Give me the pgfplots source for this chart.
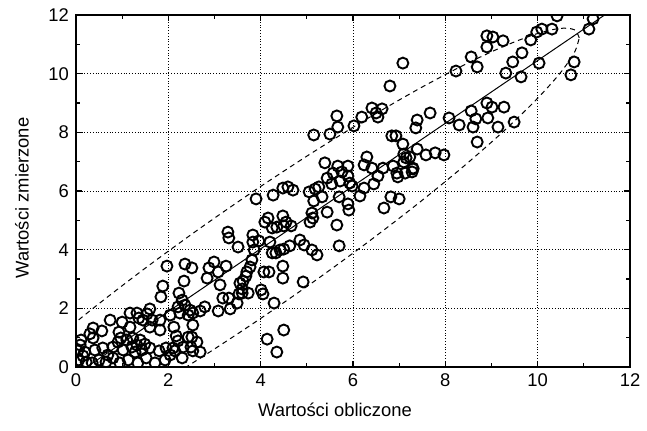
\documentclass[border=0pt]{standalone}
\usepackage{fontspec}
\setmainfont{Liberation Sans}
\usepackage{pgfplots}
\pgfplotsset{compat=1.18}
\usepackage{pgfplotstable}
\usetikzlibrary{calc}
\pgfplotstableread{
X Y
10.42 11.97
11.20 11.87
11.11 11.52
10.31 11.52
10.09 11.52
9.98 11.42
9.85 11.15
8.90 11.29
9.03 11.25
8.90 10.91
9.25 11.12
8.56 10.57
8.69 10.23
8.23 10.09
9.66 10.71
9.46 10.40
9.31 10.02
9.64 9.89
10.03 10.36
10.79 10.40
10.72 9.96
7.67 8.66
8.08 8.49
8.30 8.25
8.56 8.73
8.90 9.00
9.01 8.86
8.92 8.49
8.66 8.46
8.60 8.18
9.14 8.18
9.49 8.35
9.27 8.86
8.69 7.67
7.78 7.30
7.97 7.23
7.39 8.42
7.36 8.15
7.23 7.16
7.39 7.43
7.58 7.23
7.30 6.78
7.08 10.36
6.80 9.58
6.41 8.83
6.63 8.80
6.50 8.66
6.54 8.52
6.19 8.52
5.65 8.56
5.67 8.18
5.50 7.94
5.15 7.91
6.02 8.22
6.84 7.88
6.93 7.88
7.08 7.60
7.10 7.26
7.15 7.13
6.30 7.16
5.39 6.96
5.67 6.85
5.89 6.85
6.24 6.89
6.41 6.78
6.65 6.78
6.87 6.85
7.10 6.99
7.30 6.75
6.95 6.61
7.13 6.61
6.97 6.48
5.57 6.61
5.76 6.65
5.89 6.51
5.44 6.44
5.54 6.24
5.72 6.34
5.93 6.27
5.98 6.17
6.24 6.10
6.45 6.24
6.15 5.83
6.54 6.51
5.18 6.07
5.05 5.97
5.33 5.80
5.15 5.66
5.70 5.80
5.44 5.28
5.89 5.56
5.91 5.35
6.82 5.80
7.00 5.73
6.67 5.42
5.11 5.25
5.07 4.94
5.13 5.08
5.65 4.84
5.70 4.13
4.94 4.16
5.11 3.99
5.22 3.82
4.92 2.90
4.85 4.33
7.28 6.65
3.90 5.73
4.27 5.86
4.48 6.10
4.59 6.14
4.70 6.03
5.26 6.14
4.09 4.94
4.16 5.08
4.25 4.74
4.35 4.77
4.20 4.26
4.48 5.15
4.55 4.94
4.50 4.81
4.66 4.81
3.29 4.60
3.31 4.40
3.51 4.09
3.83 4.50
3.83 4.26
3.86 3.99
3.96 4.30
4.25 3.89
4.33 3.89
4.42 3.99
4.50 4.02
4.63 4.13
4.48 3.44
4.48 3.03
4.07 3.24
4.18 3.24
3.81 3.65
3.77 3.41
3.70 3.24
3.68 3.10
3.62 2.93
3.55 2.86
3.60 2.66
3.60 2.52
3.73 2.52
3.53 2.49
3.49 2.18
3.34 1.98
3.18 2.35
3.31 2.35
3.12 2.80
2.99 3.58
2.88 3.38
3.08 3.24
3.25 3.44
2.84 3.03
4.01 2.63
4.05 2.49
4.29 2.18
3.08 1.91
2.79 2.05
2.69 1.91
2.53 1.84
2.47 1.94
2.53 1.43
2.51 1.02
2.62 0.85
2.69 0.51
2.53 0.55
2.51 3.38
4.14 0.95
4.50 1.26
4.35 0.51
1.97 3.44
2.36 3.51
1.88 2.76
1.84 2.39
2.34 2.93
2.23 2.52
2.30 2.28
0.74 1.60
1.00 1.53
1.17 1.84
1.32 1.84
1.36 1.67
1.60 1.98
1.54 1.81
1.45 1.60
1.65 1.60
1.17 1.36
1.82 1.60
2.04 1.77
2.21 2.05
2.36 2.11
2.25 1.84
2.43 1.77
1.82 1.26
1.60 1.36
2.12 1.36
2.17 1.06
2.21 0.89
2.43 1.02
2.49 0.68
2.32 0.68
2.10 0.65
2.14 0.55
1.95 0.65
1.80 0.55
1.60 0.65
1.43 0.58
1.28 0.51
1.02 0.58
0.80 0.68
0.58 0.65
0.41 0.58
0.19 0.51
0.15 0.38
0.37 1.33
0.30 1.13
0.37 0.99
0.56 1.23
0.93 1.19
0.97 0.99
1.10 0.92
0.91 0.85
1.23 0.99
1.39 0.92
1.32 0.75
1.49 0.78
1.21 0.68
0.06 0.24
0.22 0.17
0.35 0.14
0.50 0.24
0.65 0.17
0.80 0.31
0.95 0.14
1.13 0.24
1.34 0.14
1.52 0.31
1.71 0.14
1.93 0.24
0.09 0.75
0.04 0.55
0.11 0.92
0.69 0.41
2.04 0.41
2.30 0.31
}\pts
\pgfplotstableread{
X Y
10.900 11.220
10.794 11.498
10.478 11.543
9.962 11.351
9.262 10.930
8.400 10.294
7.400 9.459
6.294 8.452
5.115 7.304
3.900 6.050
2.685 4.728
1.506 3.376
0.400 2.039
-0.600 0.754
-1.462 -0.438
-2.162 -1.501
-2.678 -2.403
-2.994 -3.116
-3.100 -3.620
-2.994 -3.898
-2.678 -3.943
-2.162 -3.751
-1.462 -3.330
-0.600 -2.694
0.400 -1.859
1.506 -0.852
2.685 0.296
3.900 1.550
5.115 2.872
6.294 4.224
7.400 5.561
8.400 6.846
9.262 8.038
9.962 9.101
10.478 10.003
10.794 10.716
10.900 11.220
}\ell
\begin{document}
\begin{tikzpicture}
\begin{axis}[
  name=ax,
  scale only axis,
  width=277pt, height=176pt,
  xmin=0, xmax=12, ymin=0, ymax=12,
  xtick={0,2,...,12}, ytick={0,2,...,12},
  minor xtick={1,3,...,11}, minor ytick={1,3,...,11},
  tick align=inside,
  major tick length=3pt, minor tick length=2pt,
  every tick/.style={black, line width=0.6pt},
  axis line style={line width=1pt},
  grid=major,
  major grid style={densely dotted, black, line width=0.5pt},
  /pgf/number format/assume math mode=true,
  tick label style={font=\fontsize{9.2pt}{11pt}\selectfont},
  label style={font=\fontsize{9.2pt}{11pt}\selectfont},
  xlabel={Wartości obliczone},
  ylabel={Wartości zmierzone},
  xlabel style={at={(axis description cs:0.4675,-0.122)}, anchor=center},
  ylabel style={at={(axis description cs:-0.0975,0.48)}, anchor=center, rotate=0},
  clip marker paths=true,
]
\addplot[black, line width=0.5pt, dash pattern=on 2.5pt off 2pt, smooth] table[x=X,y=Y] {\ell};
\addplot[black, line width=0.5pt] coordinates {(0.234,0) (11.45,12)};
\addplot[only marks, mark=o, mark size=2.75pt, mark options={black, line width=0.95pt}] table[x=X,y=Y] {\pts};
\end{axis}
\pgfresetboundingbox
\path ($(ax.south west)+(-38pt,-31.5pt)$) rectangle ($(ax.north east)+(8.5pt,7.5pt)$);
\end{tikzpicture}
\end{document}
